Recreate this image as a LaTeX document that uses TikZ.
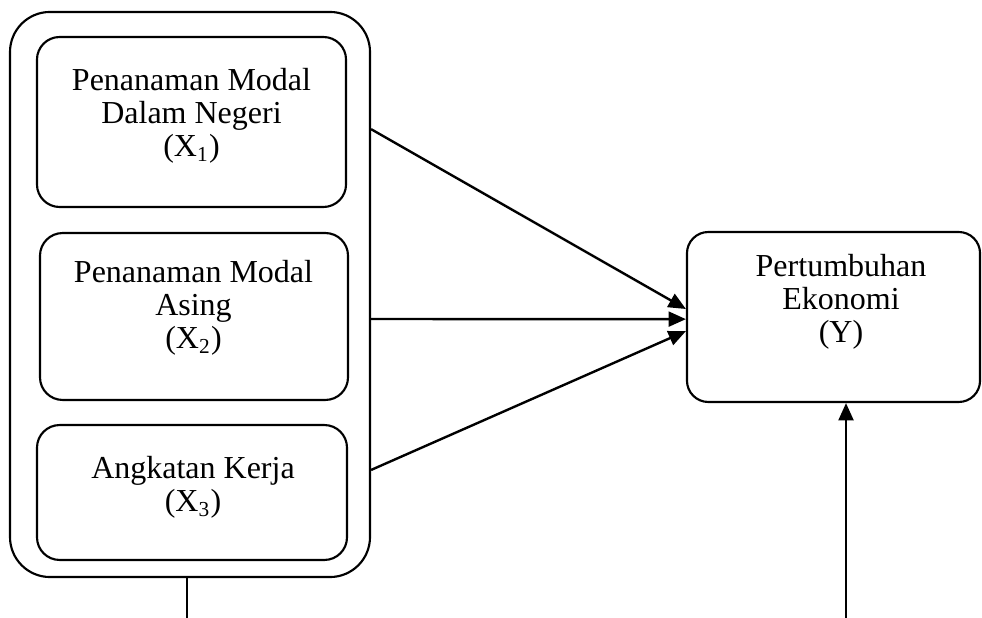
\documentclass[tikz,border=0pt]{standalone}
\usepackage{fontspec}
\setmainfont{Liberation Serif}
\usetikzlibrary{arrows.meta}

\begin{document}
\begin{tikzpicture}[x=0.375pt,y=-0.375pt,
  box/.style={draw,rounded corners=8.5pt,line width=0.8pt,inner sep=0pt},
  lbl/.style={align=center,font=\fontsize{12}{12.4}\selectfont},
  arr/.style={-{Triangle[length=6.5pt,width=5.6pt]},line width=0.9pt}]
\useasboundingbox (0,0) rectangle (982,618);

% variables X1..X3 in one frame
\node[box,rounded corners=15pt,minimum width=135pt,minimum height=211.9pt] (outer) at (190,294.5) {};
\node[box,minimum width=115.9pt,minimum height=63.75pt] (b1) at (191.5,122) {};
\node[box,minimum width=115.5pt,minimum height=62.6pt] (b2) at (194,316.5) {};
\node[box,minimum width=116.25pt,minimum height=50.6pt] (b3) at (192,492.5) {};
\node[box,rounded corners=8pt,minimum width=109.9pt,minimum height=63.75pt] (Y) at (833.5,317) {};

\node[lbl] (t1) at (191.5,116) {Penanaman Modal\\Dalam Negeri\\(X\textsubscript{1})};
\node[lbl] (t2) at (193.5,308) {Penanaman Modal\\Asing\\(X\textsubscript{2})};
\node[lbl] (t3) at (193,487) {Angkatan Kerja\\(X\textsubscript{3})};
\node[lbl] (tY) at (841,301.5) {Pertumbuhan\\Ekonomi\\(Y)};

\foreach \s/\e in {62/3, -9.2/-0.8, -65.8/-5.3}
  \draw[arr] ([yshift=\s pt]outer.east) -- ([yshift=\e pt]Y.west);

\coordinate (foot1) at (187,618);
\coordinate (foot2) at (846,618);
\draw[line width=0.9pt] (outer.south -| foot1) -- (foot1);
\draw[arr] (foot2) -- (foot2 |- Y.south);
\end{tikzpicture}
\end{document}
